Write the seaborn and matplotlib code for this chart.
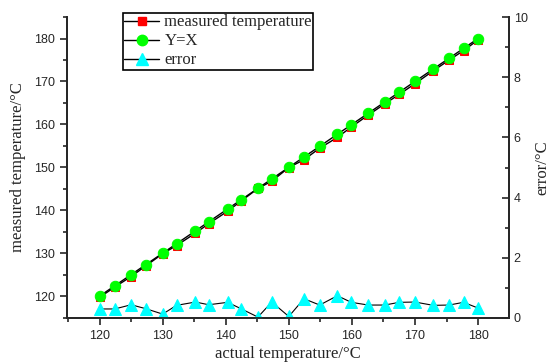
# Calibration chart: measured vs actual temperature, with error on a second axis

import seaborn as sns
import matplotlib.pyplot as plt
from matplotlib.ticker import MultipleLocator
from matplotlib.lines import Line2D

# Data
actual = [120, 122.4, 125, 127.3, 130, 132.2, 135.2, 137.3, 140.3, 142.4,
          145.1, 147.3, 150, 152.4, 154.9, 157.7, 159.9, 162.6, 165.2, 167.5,
          170, 172.9, 175.4, 177.7, 180]
measured = [119.7, 122.1, 124.56, 127.0, 129.87, 131.78, 134.67, 136.86, 139.78, 142.09,
            145.07, 146.77, 149.95, 151.76, 154.47, 156.96, 159.38, 162.17, 164.77, 166.98,
            169.47, 172.48, 174.97, 177.18, 179.67]
ideal = [120, 122.4, 125, 127.3, 130, 132.2, 135.2, 137.3, 140.3, 142.4,
         145.1, 147.3, 150, 152.4, 154.9, 157.7, 159.9, 162.6, 165.2, 167.5,
         170, 172.9, 175.4, 177.7, 180]
error = [0.30, 0.30, 0.44, 0.31, 0.13, 0.42, 0.53, 0.44, 0.52, 0.31,
         0.03, 0.53, 0.05, 0.64, 0.43, 0.74, 0.52, 0.43, 0.43, 0.52,
         0.53, 0.42, 0.43, 0.52, 0.33]

sns.set_style("ticks")
plt.rcParams['font.family'] = ['Liberation Sans', 'DejaVu Sans']
serif = 'Liberation Serif'

fig, ax = plt.subplots(figsize=(5.52, 3.63), dpi=100)
fig.subplots_adjust(left=0.121, right=0.922, bottom=0.124, top=0.953)
ax2 = ax.twinx()

sns.lineplot(x=actual, y=measured, ax=ax, color='black', lw=1, marker='s',
             markersize=6, markerfacecolor='red', markeredgecolor='red', legend=False)
sns.lineplot(x=actual, y=ideal, ax=ax, color='black', lw=1, marker='o',
             markersize=7.5, markerfacecolor='#00ff00', markeredgecolor='#00ff00', legend=False)
sns.lineplot(x=actual, y=error, ax=ax2, color='black', lw=0.8, marker='^',
             markersize=8, markerfacecolor='#00ffff', markeredgecolor='#00ffff', legend=False)

ax.set_xlim(114.8, 184.9)
ax.set_ylim(114.9, 185)
ax2.set_ylim(0, 10)

ax.xaxis.set_major_locator(MultipleLocator(10))
ax.xaxis.set_minor_locator(MultipleLocator(5))
ax.yaxis.set_major_locator(MultipleLocator(10))
ax.yaxis.set_minor_locator(MultipleLocator(5))
ax2.yaxis.set_major_locator(MultipleLocator(2))
ax2.yaxis.set_minor_locator(MultipleLocator(1))

for a in (ax, ax2):
    a.spines['top'].set_visible(False)
    for s in a.spines.values():
        s.set_linewidth(1.3)
ax.tick_params(axis='both', which='major', direction='out', length=5, width=1.2, labelsize=9)
ax.tick_params(axis='both', which='minor', direction='out', length=3, width=1.2)
ax2.tick_params(axis='y', which='major', direction='in', length=5, width=1.2, labelsize=9)
ax2.tick_params(axis='y', which='minor', direction='in', length=3, width=1.2)

ax.set_xlabel('actual temperature/°C', family=serif, fontsize=12, labelpad=3)
ax.set_ylabel('measured temperature/°C', family=serif, fontsize=12, labelpad=6)
ax2.set_ylabel('error/°C', family=serif, fontsize=12, labelpad=5)

handles = [
    Line2D([], [], color='black', lw=1, marker='s', markersize=6,
           markerfacecolor='red', markeredgecolor='red'),
    Line2D([], [], color='black', lw=1, marker='o', markersize=7.5,
           markerfacecolor='#00ff00', markeredgecolor='#00ff00'),
    Line2D([], [], color='black', lw=1, marker='^', markersize=8,
           markerfacecolor='#00ffff', markeredgecolor='#00ffff'),
]
labels = ['measured temperature', 'Y=X', 'error']
leg = fig.legend(handles, labels, loc='upper left', bbox_to_anchor=(123 / 552, 1 - 13 / 363),
                 prop={'family': serif, 'size': 12}, frameon=True, fancybox=False,
                 edgecolor='black', framealpha=1, handlelength=2.1, handletextpad=0.3,
                 borderpad=0.08, labelspacing=0.18, borderaxespad=0)
leg.get_frame().set_linewidth(1.2)

plt.savefig('out.png', dpi=100)
